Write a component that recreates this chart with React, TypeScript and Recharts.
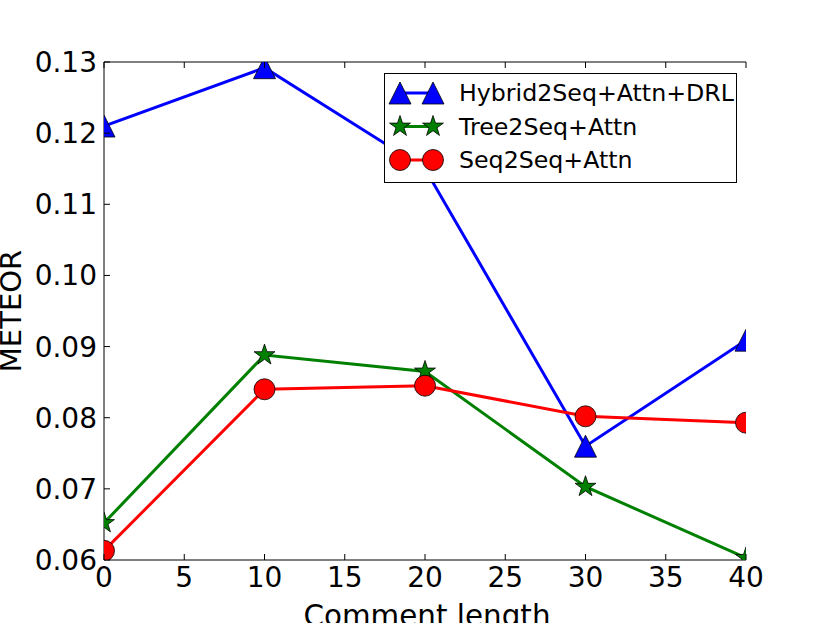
import React from "react";
import { LineChart, Line, XAxis, YAxis, Legend } from "recharts";

const lengths = [0, 10, 20, 30, 40];
const hybridScores = [0.121, 0.1292, 0.115, 0.076, 0.0909];
const treeScores = [0.0652, 0.0888, 0.0865, 0.0703, 0.0603];
const seqScores = [0.0613, 0.084, 0.0845, 0.0802, 0.0793];

const xTicks = [0, 5, 10, 15, 20, 25, 30, 35, 40];
const yTicks = [0.06, 0.07, 0.08, 0.09, 0.1, 0.11, 0.12, 0.13];

const data = lengths.map((len, i) => ({
  len,
  hybrid: hybridScores[i],
  tree: treeScores[i],
  seq: seqScores[i],
}));

const FONT = "DejaVu Sans";
const TICK = 6;

const triangle = (cx: number, cy: number, fill: string, key?: any) => (
  <polygon
    key={key}
    points={`${cx},${cy - 11} ${cx - 11},${cy + 11} ${cx + 11},${cy + 11}`}
    fill={fill}
    stroke="#000"
    strokeWidth={0.8}
  />
);

const star = (cx: number, cy: number, fill: string, key?: any) => {
  const pts: string[] = [];
  for (let i = 0; i < 10; i++) {
    const r = i % 2 === 0 ? 11 : 11 * 0.382;
    const a = (Math.PI / 5) * i - Math.PI / 2;
    pts.push(`${cx + r * Math.cos(a)},${cy + r * Math.sin(a)}`);
  }
  return <polygon key={key} points={pts.join(" ")} fill={fill} stroke="#000" strokeWidth={0.8} />;
};

const circle = (cx: number, cy: number, fill: string, key?: any) => (
  <circle key={key} cx={cx} cy={cy} r={10.5} fill={fill} stroke="#000" strokeWidth={0.8} />
);

const series = [
  { key: "hybrid", name: "Hybrid2Seq+Attn+DRL", color: "#0000ff", marker: triangle },
  { key: "tree", name: "Tree2Seq+Attn", color: "#008000", marker: star },
  { key: "seq", name: "Seq2Seq+Attn", color: "#ff0000", marker: circle },
];

const BottomTick = (props: any) => {
  const { x, y, payload } = props;
  return (
    <g>
      <line x1={x} y1={y} x2={x} y2={y - TICK} stroke="#000" />
      <text x={x} y={y + 27} textAnchor="middle" fontSize={28} fontFamily={FONT} fill="#000">
        {payload.value}
      </text>
    </g>
  );
};

const TopTick = (props: any) => {
  const { x, y } = props;
  return <line x1={x} y1={y} x2={x} y2={y + TICK} stroke="#000" />;
};

const LeftTick = (props: any) => {
  const { x, y, payload } = props;
  return (
    <g>
      <line x1={x} y1={y} x2={x + TICK} y2={y} stroke="#000" />
      <text x={x - 7} y={y + 10} textAnchor="end" fontSize={28} fontFamily={FONT} fill="#000">
        {Number(payload.value).toFixed(2)}
      </text>
    </g>
  );
};

const RightTick = (props: any) => {
  const { x, y } = props;
  return <line x1={x} y1={y} x2={x - TICK} y2={y} stroke="#000" />;
};

const renderLegend = () => (
  <svg width={353} height={110} style={{ display: "block" }}>
    <rect x={0.5} y={0.5} width={352} height={109} fill="#fff" stroke="#000" strokeWidth={1} />
    {series.map((s, i) => {
      const cy = 20 + i * 33.5;
      return (
        <g key={s.key}>
          <line x1={16} y1={cy} x2={49} y2={cy} stroke={s.color} strokeWidth={3} />
          {s.marker(16, cy, s.color)}
          {s.marker(49, cy, s.color)}
          <text x={75} y={cy + 8} fontSize={23.7} fontFamily={FONT} fill="#000">
            {s.name}
          </text>
        </g>
      );
    })}
  </svg>
);

export default function App() {
  return (
    <div style={{ position: "absolute", left: 0, top: 0, width: 830, height: 623, background: "#fff" }}>
      <LineChart
        width={830}
        height={623}
        data={data}
        margin={{ top: 2, right: 84, bottom: 0, left: 0 }}
      >
        <XAxis
          dataKey="len"
          type="number"
          domain={[0, 40]}
          ticks={xTicks}
          allowDataOverflow
          tickSize={0}
          tickMargin={0}
          tickLine={false}
          axisLine={{ stroke: "#000", strokeWidth: 1 }}
          tick={<BottomTick />}
          height={63}
          label={{
            content: (p: any) => {
              const vb = p.viewBox;
              return (
                <text
                  x={vb.x + vb.width / 2 + 2}
                  y={626}
                  textAnchor="middle"
                  fontSize={29.4}
                  fontFamily={FONT}
                  fill="#000"
                >
                  Comment length
                </text>
              );
            },
          }}
        />
        <XAxis
          xAxisId="top"
          orientation="top"
          dataKey="len"
          type="number"
          domain={[0, 40]}
          ticks={xTicks}
          allowDataOverflow
          tickSize={0}
          tickMargin={0}
          tickLine={false}
          axisLine={{ stroke: "#000", strokeWidth: 1 }}
          tick={<TopTick />}
          height={60}
        />
        <YAxis
          type="number"
          domain={[0.06, 0.13]}
          ticks={yTicks}
          allowDataOverflow
          tickSize={0}
          tickMargin={0}
          tickLine={false}
          axisLine={{ stroke: "#000", strokeWidth: 1 }}
          tick={<LeftTick />}
          width={104}
          label={{
            content: (p: any) => {
              const vb = p.viewBox;
              const cy = vb.y + vb.height / 2;
              return (
                <text
                  x={21}
                  y={cy}
                  transform={`rotate(-90 21 ${cy})`}
                  textAnchor="middle"
                  fontSize={29}
                  fontFamily={FONT}
                  fill="#000"
                >
                  METEOR
                </text>
              );
            },
          }}
        />
        <YAxis
          yAxisId="right"
          orientation="right"
          type="number"
          domain={[0.06, 0.13]}
          ticks={yTicks}
          allowDataOverflow
          tickSize={0}
          tickMargin={0}
          tickLine={false}
          axisLine={{ stroke: "#000", strokeWidth: 1 }}
          tick={<RightTick />}
          width={0}
        />
        {series.map((s) => (
          <Line
            key={s.key}
            dataKey={s.key}
            name={s.name}
            type="linear"
            stroke={s.color}
            strokeWidth={3}
            isAnimationActive={false}
            dot={(p: any) => s.marker(p.cx, p.cy, s.color, p.index)}
            activeDot={false}
          />
        ))}
        <Legend
          layout="vertical"
          align="center"
          verticalAlign="middle"
          content={renderLegend}
          wrapperStyle={{ left: 384, top: 73, width: 353, height: 110 }}
        />
      </LineChart>
    </div>
  );
}
